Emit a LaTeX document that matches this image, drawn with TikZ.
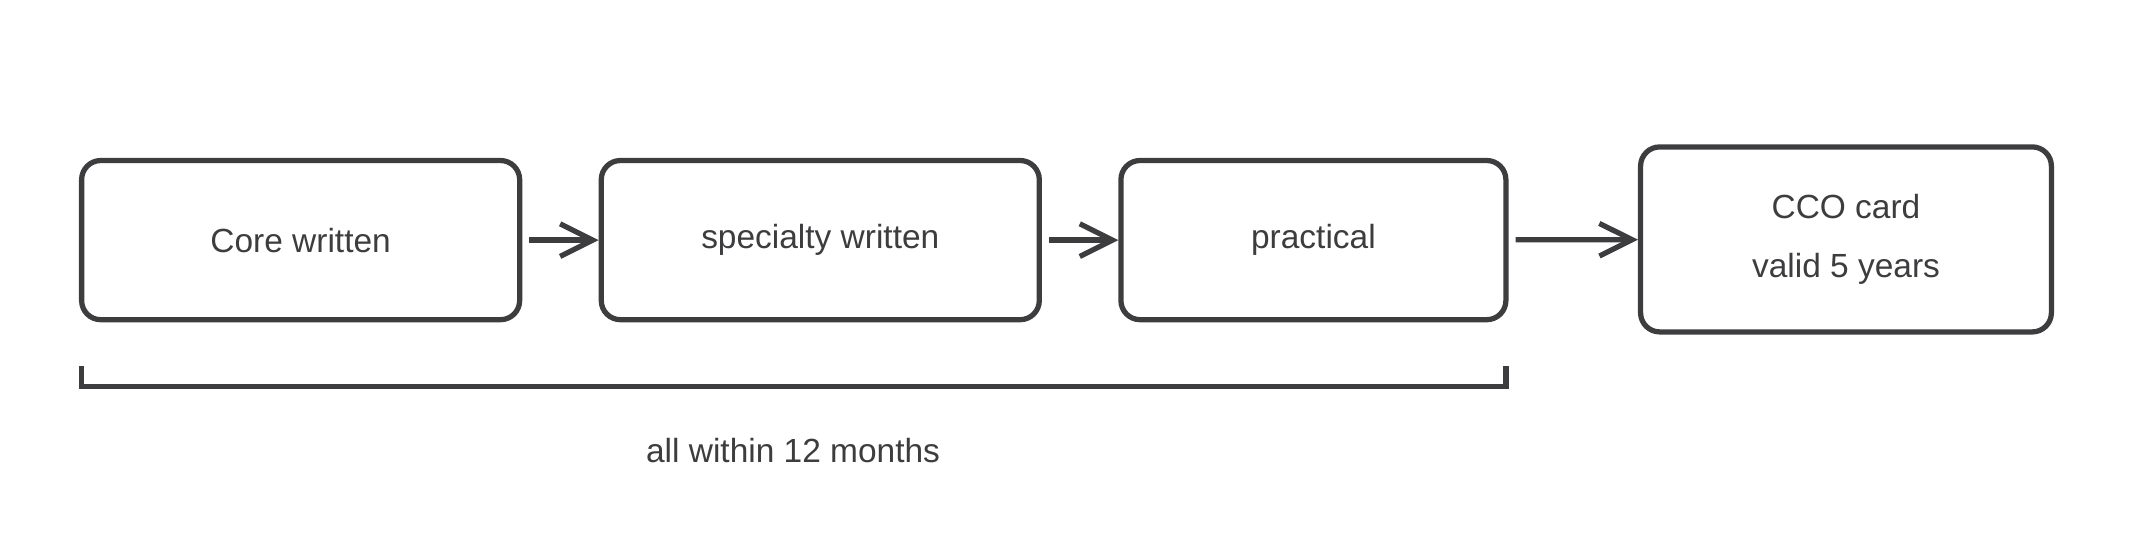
\documentclass[tikz,border=0pt]{standalone}
\usepackage{fontspec}
\setmainfont{Liberation Sans}
\usetikzlibrary{arrows.meta}
\definecolor{ink}{HTML}{3D3D40}
\begin{document}
\begin{tikzpicture}[
    box/.style={draw=ink, line width=1.1pt, rounded corners=4pt, minimum height=1.17cm, text=ink, font=\fontsize{7}{12.5}\selectfont, align=center},
    flow/.style={draw=ink, line width=1.1pt, ->, shorten <=1.5pt, >={Straight Barb[length=2.4mm,width=2.4mm]}}]
    \useasboundingbox (0,0) rectangle (15.68,3.92);
    % Exam steps
    \node[box, minimum width=3.22cm] (core) at (2.21,2.155) {Core written};
    \node[box, minimum width=3.22cm] (spec) at (6.03,2.155) {specialty written};
    \node[box, minimum width=2.83cm] (prac) at (9.655,2.155) {practical};
    \node[box, minimum width=3.02cm, minimum height=1.36cm] (card) at (13.57,2.16) {CCO card\\valid 5 years};
    \draw[flow] (core) -- (spec);
    \draw[flow] (spec) -- (prac);
    \draw[flow] (prac) -- (card);

    % Time window
    \coordinate (left) at (0.60,1.08);
    \coordinate (right) at (11.07,1.08);
    \draw[ink, line width=1.1pt] ([yshift=0.15cm]left) -- (left) -- (right) -- ([yshift=0.15cm]right);
    \node[text=ink, font=\fontsize{7}{9}\selectfont] (window) at (5.83,0.61) {all within 12 months};
\end{tikzpicture}
\end{document}
